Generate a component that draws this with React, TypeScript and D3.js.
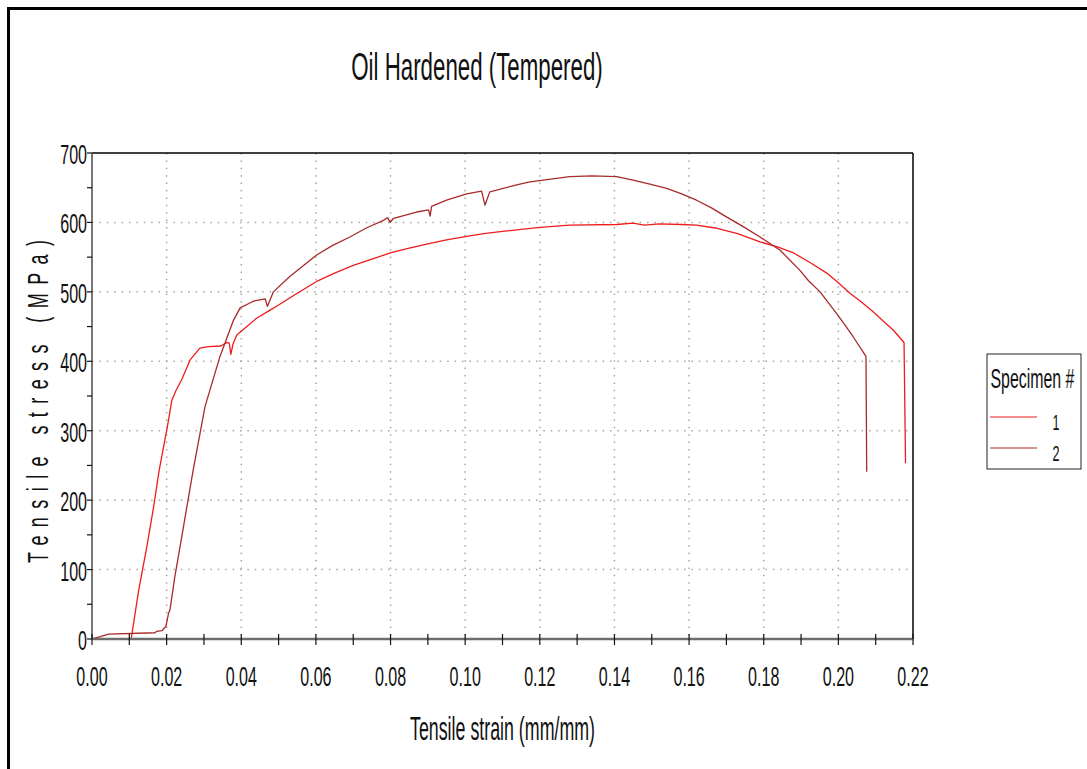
import React from 'react';
import * as d3 from 'd3';

// specimen 1 (bright red)
const strain1 = [0, 0.0105, 0.0125, 0.0147, 0.0165, 0.018, 0.0202, 0.0214, 0.0225, 0.024, 0.0263, 0.0289, 0.0312, 0.0345, 0.0361, 0.0368, 0.0372, 0.0378, 0.0388, 0.0415, 0.0441, 0.0475, 0.05, 0.055, 0.0602, 0.065, 0.07, 0.075, 0.0799, 0.085, 0.09, 0.095, 0.1004, 0.105, 0.11, 0.115, 0.12, 0.128, 0.1406, 0.145, 0.148, 0.152, 0.158, 0.162, 0.167, 0.173, 0.179, 0.1835, 0.188, 0.1925, 0.1969, 0.2, 0.2031, 0.206, 0.2094, 0.212, 0.2147, 0.2176, 0.218];
const stress1 = [0, 0, 70, 133, 190, 243, 306, 344, 358, 373, 402, 419, 421, 422, 427, 426, 410, 425, 438, 450, 462, 473, 481, 498, 515, 527, 538, 547, 556, 563, 569, 575, 580, 584, 587, 590, 593, 596, 597, 599, 596, 598, 597, 596, 592, 584, 572, 565, 556, 542, 527, 513, 498, 486, 471, 458, 445, 427, 253];

// specimen 2 (dark red)
const strain2 = [0, 0.002, 0.0044, 0.0169, 0.0173, 0.0187, 0.0198, 0.0205, 0.0209, 0.0222, 0.0236, 0.0271, 0.0303, 0.0343, 0.0379, 0.0397, 0.0423, 0.0435, 0.0464, 0.047, 0.0486, 0.053, 0.0602, 0.0645, 0.0691, 0.0735, 0.0781, 0.0792, 0.0799, 0.0808, 0.087, 0.0902, 0.0906, 0.091, 0.095, 0.1004, 0.1044, 0.1053, 0.1066, 0.1138, 0.117, 0.1209, 0.128, 0.134, 0.1406, 0.145, 0.1495, 0.154, 0.158, 0.162, 0.166, 0.17, 0.1745, 0.179, 0.1844, 0.1897, 0.192, 0.1951, 0.1995, 0.2018, 0.204, 0.2074, 0.2076];
const stress2 = [0, 3, 7, 9, 11, 12, 18, 37, 42, 90, 133, 243, 335, 407, 459, 477, 484, 487, 490, 479, 500, 522, 553, 567, 579, 592, 603, 607, 600, 606, 615, 618, 609, 623, 632, 641, 645, 625, 644, 654, 658, 661, 666, 667, 666, 661, 655, 649, 641, 632, 621, 608, 594, 579, 560, 531, 516, 500, 469, 452, 435, 407, 241];

const xTicks = [0, 0.02, 0.04, 0.06, 0.08, 0.1, 0.12, 0.14, 0.16, 0.18, 0.2, 0.22];
const yTicks = [0, 100, 200, 300, 400, 500, 600, 700];
const specimens = ['1', '2'];
const colors = ['#ee1c1c', '#a82a2a'];

const FONT = "'Liberation Sans', Arial, sans-serif";
const SX = 0.574;

function Narrow({ x, y, size, anchor, sx = SX, children }: any) {
  return (
    <text transform={`translate(${x},${y}) scale(${sx},1)`} fontSize={size} textAnchor={anchor} fontFamily={FONT} fill="#111">
      {children}
    </text>
  );
}

export default function App() {
  const left = 92, right = 913, top = 153, bottom = 639;
  const x = d3.scaleLinear().domain([0, 0.22]).range([left, right]);
  const y = d3.scaleLinear().domain([0, 700]).range([bottom, top]);
  const line = d3.line<[number, number]>().x((d) => x(d[0])).y((d) => y(d[1]));

  const series = [
    strain1.map((s, i) => [s, stress1[i]] as [number, number]),
    strain2.map((s, i) => [s, stress2[i]] as [number, number]),
  ];
  const minorX = d3.range(0, 23).map((i) => i / 100);
  const minorY = d3.range(0, 15).map((i) => i * 50);

  return (
    <div style={{ position: 'absolute', left: 0, top: 0 }}>
      <svg width={1087} height={769} style={{ display: 'block', background: '#fff' }}>
        <rect x={8.5} y={8.5} width={1200} height={900} fill="none" stroke="#000" strokeWidth={3} />

        <Narrow x={477} y={80} size={38} anchor="middle" sx={0.587}>Oil Hardened (Tempered)</Narrow>

        {/* grid */}
        {xTicks.slice(1, -1).map((t) => (
          <line key={'gx' + t} x1={x(t)} x2={x(t)} y1={top} y2={bottom} stroke="#a8a898" strokeWidth={1.5} strokeDasharray="1.5,5.9" />
        ))}
        {yTicks.slice(1, -1).map((t) => (
          <line key={'gy' + t} x1={left} x2={right} y1={y(t)} y2={y(t)} stroke="#a8a898" strokeWidth={1.5} strokeDasharray="1.5,5.9" />
        ))}

        {/* frame */}
        <line x1={left} x2={right} y1={top} y2={top} stroke="#000" strokeWidth={1.3} />
        <line x1={right} x2={right} y1={top} y2={bottom} stroke="#000" strokeWidth={1.5} />

        {/* curves */}
        {series.map((s, i) => (
          <path key={i} d={line(s) || ''} fill="none" stroke={colors[i]} strokeWidth={1.3} strokeLinejoin="round" />
        ))}

        {/* axes */}
        <line x1={left} x2={left} y1={top} y2={bottom} stroke="#555" strokeWidth={1.6} />
        <line x1={left} x2={right} y1={bottom} y2={bottom} stroke="#6e6e6e" strokeWidth={2.3} />
        {minorX.map((t) => (
          <line key={'tx' + t} x1={x(t)} x2={x(t)} y1={bottom - 5} y2={bottom + 6} stroke="#111" strokeWidth={1.2} />
        ))}
        {minorY.map((t) => (
          <line key={'ty' + t} x1={left - 5} x2={left} y1={y(t)} y2={y(t)} stroke="#111" strokeWidth={1.2} />
        ))}
        {xTicks.map((t) => (
          <Narrow key={'lx' + t} x={x(t)} y={686} size={28} anchor="middle">{d3.format('.2f')(t)}</Narrow>
        ))}
        {yTicks.map((t) => (
          <Narrow key={'ly' + t} x={87} y={y(t) + 11} size={28} anchor="end">{String(t)}</Narrow>
        ))}

        <Narrow x={502.5} y={740} size={33} anchor="middle" sx={0.54}>Tensile strain (mm/mm)</Narrow>
        <g transform="translate(48,401.5) rotate(-90) scale(0.62,1)">
          <text x={0} y={0} fontSize={29} textAnchor="middle" fontFamily={FONT} textLength={521} lengthAdjust="spacing" fill="#111">
            Tensile stress (MPa)
          </text>
        </g>

        {/* legend */}
        <rect x={987} y={354} width={94} height={115} fill="#fff" stroke="#222" strokeWidth={1} />
        <Narrow x={990.5} y={388} size={27} anchor="start" sx={0.589}>Specimen #</Narrow>
        {specimens.map((s, i) => (
          <g key={s}>
            <line x1={990} x2={1037} y1={417 + i * 31} y2={417 + i * 31} stroke={colors[i]} strokeWidth={1.2} />
            <Narrow x={1056} y={430 + i * 31} size={22} anchor="middle">{s}</Narrow>
          </g>
        ))}
      </svg>
    </div>
  );
}
